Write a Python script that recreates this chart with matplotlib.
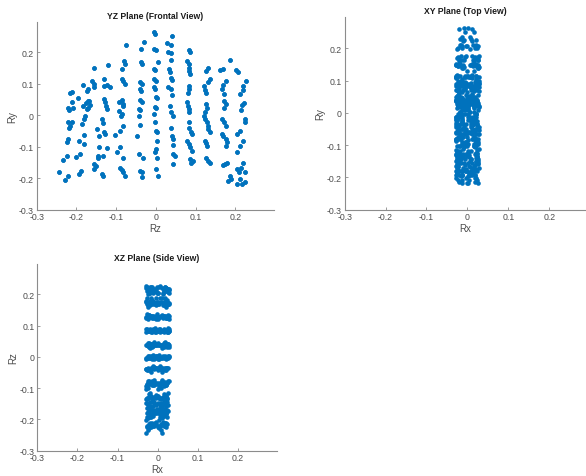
import numpy as np
import matplotlib
matplotlib.use("Agg")
import matplotlib.pyplot as plt

# Punkty pomiarowe: (Rz, Ry, Rx_1, Rx_2) - kazdy punkt z widoku YZ ma dwa Rx
col_a = [(-0.244, -0.181, -0.028, 0.010), (-0.228, -0.207, -0.022, 0.004), (-0.220, -0.192, -0.012, 0.018),
         (-0.233, -0.142, -0.025, 0.008), (-0.225, -0.130, -0.016, 0.021), (-0.225, -0.085, -0.027, 0.002),
         (-0.222, -0.076, -0.010, 0.015), (-0.219, -0.040, -0.020, 0.012), (-0.215, -0.035, -0.004, 0.024),
         (-0.220, -0.022, -0.026, 0.006), (-0.212, -0.020, -0.014, 0.019), (-0.222, 0.024, -0.024, 0.001),
         (-0.218, 0.017, -0.009, 0.016), (-0.212, 0.041, -0.018, 0.022), (-0.209, 0.025, -0.003, 0.013),
         (-0.215, 0.070, -0.021, 0.009), (-0.212, 0.073, -0.006, 0.017)]
col_b = [(-0.197, 0.055, -0.023, 0.011), (-0.183, 0.097, -0.015, 0.020), (-0.193, -0.187, -0.026, 0.005),
         (-0.189, -0.176, -0.011, 0.016), (-0.191, -0.123, -0.020, 0.023), (-0.202, -0.132, -0.029, 0.003),
         (-0.193, -0.080, -0.017, 0.012), (-0.181, -0.091, -0.007, 0.020), (-0.181, -0.063, -0.024, 0.009),
         (-0.185, -0.029, -0.013, 0.017), (-0.181, -0.012, -0.027, 0.001), (-0.178, -0.002, -0.005, 0.022),
         (-0.183, 0.031, -0.019, 0.007), (-0.174, 0.020, -0.009, 0.025), (-0.177, 0.038, -0.025, 0.014),
         (-0.170, 0.046, -0.014, 0.004), (-0.167, 0.033, -0.002, 0.019), (-0.174, 0.078, -0.021, 0.010),
         (-0.170, 0.083, -0.010, 0.024)]
col_c = [(-0.156, 0.152, -0.018, 0.012), (-0.162, 0.110, -0.026, 0.006), (-0.157, 0.099, -0.012, 0.020),
         (-0.155, 0.089, -0.004, 0.025), (-0.168, 0.046, -0.022, 0.014), (-0.170, 0.025, -0.015, 0.003),
         (-0.149, -0.044, -0.028, 0.009), (-0.143, -0.065, -0.008, 0.021), (-0.143, -0.102, -0.020, 0.016),
         (-0.147, -0.128, -0.027, 0.002), (-0.145, -0.134, -0.011, 0.023), (-0.155, -0.169, -0.024, 0.007),
         (-0.151, -0.162, -0.006, 0.018), (-0.157, -0.155, -0.016, 0.011)]
col_d = [(-0.120, 0.160, -0.021, 0.015), (-0.131, 0.115, -0.027, 0.008), (-0.131, 0.092, -0.013, 0.022),
         (-0.122, 0.096, -0.005, 0.018), (-0.115, 0.089, -0.019, 0.026), (-0.130, 0.051, -0.025, 0.004),
         (-0.128, 0.041, -0.009, 0.013), (-0.126, 0.030, -0.016, 0.020), (-0.124, 0.019, -0.002, 0.000),
         (-0.136, -0.012, -0.028, 0.006), (-0.134, -0.025, -0.012, 0.024), (-0.131, -0.054, -0.023, 0.017),
         (-0.127, -0.060, -0.007, 0.001), (-0.124, -0.104, -0.018, 0.021), (-0.136, -0.185, -0.026, 0.011),
         (-0.134, -0.192, -0.014, 0.019), (-0.132, -0.128, -0.003, 0.023)]
col_e = [(-0.075, 0.223, -0.010, 0.012), (-0.080, 0.174, -0.022, 0.018), (-0.078, 0.165, -0.014, 0.025),
         (-0.086, 0.147, -0.027, 0.006), (-0.086, 0.115, -0.018, 0.021), (-0.082, 0.110, -0.006, 0.001),
         (-0.078, 0.099, -0.024, 0.028), (-0.094, 0.041, -0.029, 0.003), (-0.086, 0.050, -0.015, 0.019),
         (-0.084, 0.036, -0.004, 0.024), (-0.082, 0.031, -0.020, 0.010), (-0.094, 0.014, -0.026, 0.016),
         (-0.089, -0.002, -0.011, 0.022), (-0.085, 0.004, -0.019, 0.007), (-0.084, -0.034, -0.025, 0.013),
         (-0.102, -0.063, -0.028, 0.001), (-0.091, -0.049, -0.013, 0.020), (-0.098, -0.118, -0.023, 0.009),
         (-0.090, -0.102, -0.008, 0.017), (-0.082, -0.137, -0.017, 0.024), (-0.090, -0.166, -0.027, 0.005),
         (-0.082, -0.181, -0.012, 0.015), (-0.078, -0.192, -0.021, 0.011), (-0.086, -0.174, -0.003, 0.021)]
col_f = [(-0.038, 0.211, -0.019, 0.014), (-0.029, 0.234, -0.012, 0.006), (-0.037, 0.170, -0.025, 0.020),
         (-0.036, 0.163, -0.008, 0.026), (-0.040, 0.107, -0.028, 0.011), (-0.036, 0.099, -0.015, 0.023),
         (-0.040, 0.083, -0.022, 0.004), (-0.037, 0.078, -0.005, 0.017), (-0.040, 0.048, -0.027, 0.009),
         (-0.036, 0.044, -0.013, 0.021), (-0.042, 0.021, -0.024, 0.002), (-0.040, 0.016, -0.009, 0.001),
         (-0.042, -0.002, -0.020, 0.019), (-0.040, -0.031, -0.029, 0.008), (-0.047, -0.067, -0.017, 0.012),
         (-0.042, -0.123, -0.026, 0.022), (-0.033, -0.137, -0.010, 0.005), (-0.040, -0.176, -0.023, 0.016),
         (-0.036, -0.181, -0.004, 0.010), (-0.034, -0.197, -0.016, 0.001)]
col_g = [(-0.006, 0.264, 0.002, -0.008), (-0.002, 0.260, -0.020, 0.012), (-0.006, 0.211, -0.015, 0.022),
         (0.000, 0.208, -0.004, 0.027), (0.004, 0.171, -0.022, 0.018), (-0.005, 0.147, -0.027, 0.009),
         (-0.002, 0.144, -0.010, 0.025), (-0.005, 0.115, -0.024, 0.002), (-0.001, 0.110, -0.006, 0.029),
         (-0.006, 0.089, -0.028, 0.004), (-0.002, 0.083, -0.013, 0.020), (0.000, 0.057, -0.021, 0.011),
         (0.002, 0.054, -0.003, 0.026), (-0.002, 0.027, -0.026, -0.001), (0.001, 0.023, -0.011, 0.023),
         (-0.005, 0.004, -0.018, 0.016), (-0.002, -0.022, -0.029, 0.002), (0.000, -0.049, -0.014, 0.021),
         (0.002, -0.054, -0.005, 0.028), (0.002, -0.080, -0.023, 0.013), (0.000, -0.107, -0.009, 0.019),
         (-0.002, -0.116, -0.027, 0.024), (0.002, -0.134, -0.016, 0.000), (0.000, -0.171, -0.025, 0.014),
         (0.006, -0.192, -0.012, 0.003)]
col_h = [(0.040, 0.251, 0.015, -0.005), (0.027, 0.229, -0.018, 0.010), (0.037, 0.225, -0.008, 0.020),
         (0.031, 0.202, -0.014, 0.024), (0.037, 0.198, -0.025, 0.006), (0.037, 0.176, -0.003, 0.028),
         (0.033, 0.147, -0.021, 0.017), (0.036, 0.139, -0.011, 0.026), (0.038, 0.118, -0.026, 0.012),
         (0.040, 0.113, -0.007, 0.022), (0.031, 0.089, -0.019, 0.029), (0.037, 0.083, -0.028, 0.003),
         (0.040, 0.064, -0.012, -0.001), (0.036, 0.031, -0.024, 0.025), (0.038, 0.011, -0.005, 0.001),
         (0.042, -0.002, -0.017, 0.021), (0.037, -0.039, -0.027, 0.009), (0.041, -0.065, -0.013, 0.027),
         (0.044, -0.076, -0.022, 0.016), (0.042, -0.094, -0.004, 0.023), (0.044, -0.123, -0.025, 0.002),
         (0.048, -0.128, -0.010, 0.019), (0.042, -0.155, -0.020, 0.026)]
col_i = [(0.084, 0.208, -0.012, 0.000), (0.086, 0.200, -0.023, 0.018), (0.078, 0.173, -0.006, 0.025),
         (0.082, 0.163, -0.019, 0.013), (0.084, 0.152, -0.027, 0.022), (0.083, 0.142, -0.014, 0.029),
         (0.086, 0.131, -0.002, 0.017), (0.082, 0.094, -0.024, 0.010), (0.084, 0.085, -0.010, 0.027),
         (0.080, 0.072, -0.028, 0.015), (0.078, 0.041, -0.017, 0.023), (0.080, 0.031, -0.005, 0.006),
         (0.084, 0.020, -0.022, 0.028), (0.082, 0.010, -0.012, 0.001), (0.084, -0.022, -0.026, 0.011),
         (0.084, -0.039, -0.008, 0.024), (0.088, -0.054, -0.020, 0.016), (0.090, -0.060, -0.029, 0.004),
         (0.078, -0.080, -0.015, 0.026), (0.082, -0.091, -0.003, 0.020), (0.086, -0.102, -0.025, -0.001),
         (0.090, -0.112, -0.011, 0.028), (0.086, -0.139, -0.018, 0.021), (0.088, -0.150, -0.027, 0.007),
         (0.093, -0.144, -0.007, 0.025)]
col_j = [(0.130, 0.152, -0.020, 0.016), (0.126, 0.142, -0.009, 0.026), (0.136, 0.115, -0.026, -0.001),
         (0.132, 0.105, -0.014, 0.021), (0.121, 0.092, -0.003, 0.029), (0.124, 0.082, -0.023, 0.013),
         (0.125, 0.070, -0.011, 0.024), (0.126, 0.036, -0.028, 0.005), (0.128, 0.025, -0.016, 0.019),
         (0.124, 0.010, -0.006, 0.027), (0.122, -0.003, -0.024, 0.001), (0.124, -0.012, -0.013, 0.022),
         (0.128, -0.020, -0.027, 0.003), (0.130, -0.033, -0.019, 0.017), (0.132, -0.044, -0.008, 0.028),
         (0.135, -0.054, -0.022, 0.011), (0.124, -0.080, -0.029, 0.020), (0.126, -0.089, -0.012, 0.025),
         (0.128, -0.097, -0.004, 0.002), (0.126, -0.137, -0.025, 0.023), (0.130, -0.144, -0.015, 0.008),
         (0.135, -0.150, -0.021, 0.027)]
col_k = [(0.187, 0.176, -0.016, 0.012), (0.161, 0.144, -0.024, 0.020), (0.168, 0.147, -0.010, 0.027),
         (0.176, 0.110, -0.027, 0.008), (0.169, 0.096, -0.018, 0.023), (0.165, 0.083, -0.005, 0.016),
         (0.171, 0.068, -0.022, 0.029), (0.170, 0.046, -0.013, 0.000), (0.176, 0.036, -0.028, 0.021),
         (0.171, 0.025, -0.007, 0.025), (0.167, -0.012, -0.020, 0.014), (0.170, -0.020, -0.026, 0.004),
         (0.177, -0.033, -0.011, 0.024), (0.165, -0.060, -0.023, 0.018), (0.169, -0.067, -0.003, 0.028),
         (0.176, -0.076, -0.017, -0.001), (0.180, -0.086, -0.029, 0.022), (0.175, -0.098, -0.012, 0.016),
         (0.169, -0.158, -0.025, 0.026), (0.174, -0.155, -0.008, 0.002), (0.178, -0.152, -0.019, 0.020),
         (0.187, -0.192, -0.027, 0.006), (0.182, -0.208, -0.014, 0.024), (0.189, -0.203, -0.004, 0.018)]
col_l = [(0.201, 0.145, -0.024, 0.014), (0.206, 0.139, -0.012, 0.026), (0.227, 0.110, -0.028, 0.007),
         (0.220, 0.092, -0.016, 0.021), (0.218, 0.080, -0.005, 0.028), (0.212, 0.068, -0.022, 0.017),
         (0.221, 0.040, -0.027, 0.011), (0.216, 0.033, -0.010, 0.024), (0.213, 0.018, -0.019, 0.029),
         (0.225, -0.012, -0.026, 0.004), (0.223, -0.022, -0.014, 0.019), (0.212, -0.049, -0.003, 0.025),
         (0.205, -0.060, -0.021, 0.013), (0.220, -0.080, -0.028, 0.022), (0.212, -0.097, -0.008, 0.027),
         (0.205, -0.118, -0.018, 0.001), (0.219, -0.150, -0.025, 0.020), (0.203, -0.171, -0.011, 0.028),
         (0.213, -0.166, -0.023, 0.015), (0.210, -0.181, -0.006, 0.024), (0.224, -0.181, -0.017, -0.001),
         (0.212, -0.203, -0.027, 0.021), (0.216, -0.218, -0.013, 0.026), (0.224, -0.213, -0.020, 0.018),
         (0.205, -0.218, -0.002, 0.002)]

tick_vals = [-0.3, -0.2, -0.1, 0, 0.1, 0.2]
tick_labels = ['-0.3', '-0.2', '-0.1', '0', '0.1', '0.2']

# Zlozenie danych w tablice Rx, Ry, Rz
tab = np.array(col_a + col_b + col_c + col_d + col_e + col_f +
               col_g + col_h + col_i + col_j + col_k + col_l)
rz = np.concatenate([tab[:, 0], tab[:, 0]])
ry = np.concatenate([tab[:, 1], tab[:, 1]])
rx = np.concatenate([tab[:, 2], tab[:, 3]])

plt.rcParams['font.family'] = ['Liberation Sans', 'DejaVu Sans']
kolor = '#0072BD'

fig = plt.figure(figsize=(5.86, 4.77), dpi=100)

# Pozycje osi w pikselach (lewo, dol, szer, wys) przeliczone na ulamki
def osie(x0, y_dol, w, h):
    return fig.add_axes([x0 / 586, (477 - y_dol) / 477, w / 586, h / 477])

ax1 = osie(36.7, 210.7, 237.3, 187.7)
ax2 = osie(344.7, 210.7, 241.3, 192.7)
ax3 = osie(37.3, 451.7, 239.5, 186.7)

widoki = [
    (ax1, rz, ry, 'YZ Plane (Frontal View)', 'Rz', 'Ry', 0.297),
    (ax2, rx, ry, 'XY Plane (Top View)', 'Rx', 'Ry', 0.29),
    (ax3, rx, rz, 'XZ Plane (Side View)', 'Rx', 'Rz', 0.297),
]

for ax, xs, ys, tytul, xl, yl, xmax in widoki:
    ax.scatter(xs, ys, s=11, color=kolor, linewidths=0)
    ax.set_xlim(-0.3, xmax)
    ax.set_ylim(-0.3, 0.297)
    ax.set_xticks(tick_vals)
    ax.set_xticklabels(tick_labels)
    ax.set_yticks(tick_vals)
    ax.set_yticklabels(tick_labels)
    ax.spines['top'].set_visible(False)
    ax.spines['right'].set_visible(False)
    for s in ['left', 'bottom']:
        ax.spines[s].set_color('0.55')
        ax.spines[s].set_linewidth(0.8)
    ax.tick_params(direction='in', length=2.5, width=0.6, colors='0.55',
                   labelcolor='0.3', labelsize=6.3, pad=2)
    ax.set_title(tytul, fontsize=6.2, fontweight='bold', color='0.1', pad=3)
    ax.set_xlabel(xl, fontsize=7, color='0.3', labelpad=1)
    ax.set_ylabel(yl, fontsize=7, color='0.3', labelpad=1)

plt.savefig('out.png', dpi=100)
